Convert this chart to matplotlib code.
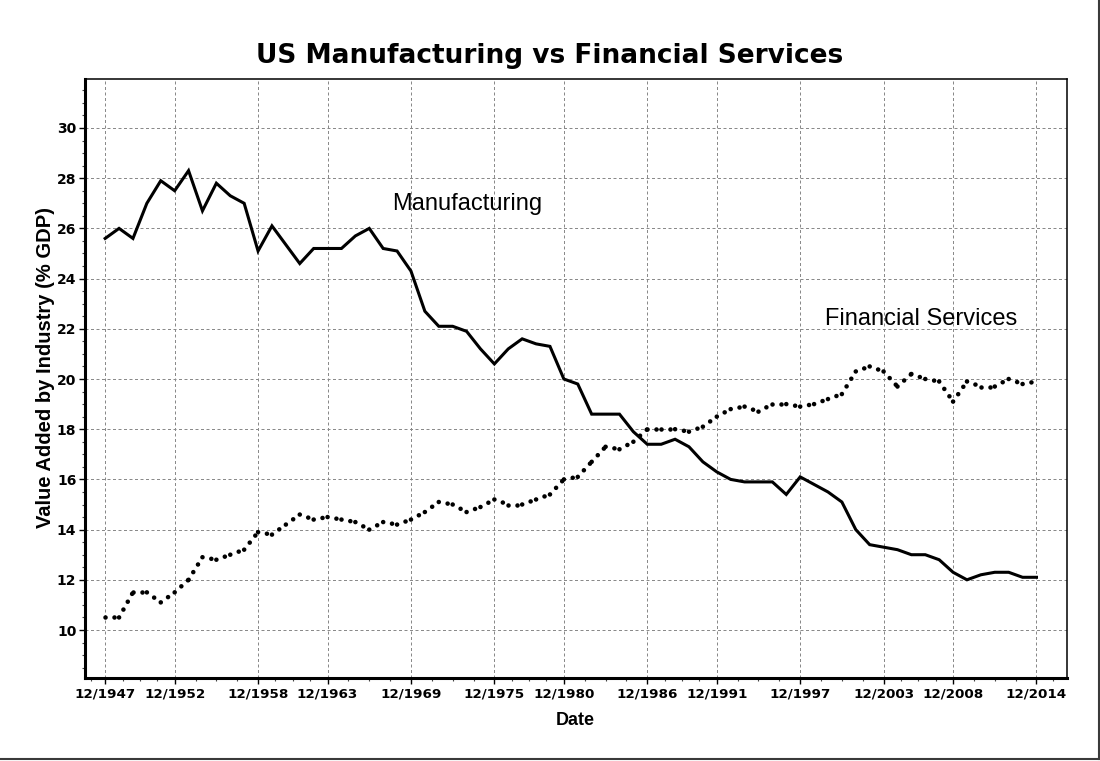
import numpy as np
import matplotlib
matplotlib.use("Agg")
import matplotlib.pyplot as plt
from matplotlib.lines import Line2D

# ---- data ----
years = list(range(1947, 2015))
manufacturing = [25.6, 26.0, 25.6, 27.0, 27.9, 27.5, 28.3, 26.7, 27.8, 27.3,
                 27.0, 25.1, 26.1, 25.35, 24.6, 25.2, 25.2, 25.2, 25.7, 26.0,
                 25.2, 25.1, 24.3, 22.7, 22.1, 22.1, 21.9, 21.2, 20.6, 21.2,
                 21.6, 21.4, 21.3, 20.0, 19.8, 18.6, 18.6, 18.6, 17.9, 17.4,
                 17.4, 17.6, 17.3, 16.7, 16.3, 16.0, 15.9, 15.9, 15.9, 15.4,
                 16.1, 15.8, 15.5, 15.1, 14.0, 13.4, 13.3, 13.2, 13.0, 13.0,
                 12.8, 12.3, 12.0, 12.2, 12.3, 12.3, 12.1, 12.1]
financial = [10.5, 10.5, 11.5, 11.5, 11.1, 11.5, 12.0, 12.9, 12.8, 13.0,
             13.2, 13.9, 13.8, 14.2, 14.6, 14.4, 14.5, 14.4, 14.3, 14.0,
             14.3, 14.2, 14.4, 14.7, 15.1, 15.0, 14.7, 14.9, 15.2, 15.0,
             15.0, 15.2, 15.4, 16.0, 16.1, 16.7, 17.3, 17.2, 17.5, 18.0,
             18.0, 18.0, 17.9, 18.1, 18.5, 18.8, 18.9, 18.7, 19.0, 19.0,
             18.9, 19.0, 19.2, 19.4, 20.3, 20.5, 20.3, 19.7, 20.2, 20.0,
             19.9, 19.1, 19.9, 19.7, 19.7, 20.0, 19.8, 19.9]
xtick_years = [1947, 1952, 1958, 1963, 1969, 1975, 1980, 1986, 1991, 1997, 2003, 2008, 2014]
xtick_labels = ["12/%d" % y for y in xtick_years]
ytick_values = [10, 12, 14, 16, 18, 20, 22, 24, 26, 28, 30]

W, H = 1100, 761
fig = plt.figure(figsize=(W / 100, H / 100), dpi=100)
fig.patch.set_facecolor("white")

def fx(px):
    return px / W

def fy(py):
    return 1 - py / H

ax = fig.add_axes([fx(85), fy(677.7), fx(1066.5) - fx(85), fy(79.3) - fy(677.7)])
ax.set_xlim(1945.55, 2016.16)
ax.set_ylim(8.1, 31.94)

# grid
ax.set_axisbelow(True)
ax.set_xticks(xtick_years)
ax.set_yticks(ytick_values)
ax.grid(True, which="major", color="#8a8a8a", lw=0.72, linestyle=(0, (3.0, 2.5)))

# minor ticks
minor_x = []
for a, b in zip(xtick_years[:-1], xtick_years[1:]):
    for k in (1, 2, 3):
        minor_x.append(a + (b - a) * k / 4)
minor_x = [1946.0] + minor_x + [2015.2]
ax.set_xticks(minor_x, minor=True)
ax.set_yticks(np.arange(8.5, 31.9, 0.5), minor=True)

# manufacturing line
ax.plot(years, manufacturing, color="black", lw=2.2, solid_joinstyle="miter", zorder=3)

# financial services dotted line (pattern restarts at each yearly vertex)
yr = np.array(years, dtype=float)
fs = np.array(financial)
for i in range(len(yr) - 1):
    ax.plot(yr[i:i + 2], fs[i:i + 2], color="black", lw=3.3,
            linestyle=(0, (0.01, 1.95)), dash_capstyle="round", zorder=3)

# annotations
ax.text(1967.61, 26.73, "Manufacturing", fontsize=17, family="Liberation Sans",
        ha="left", va="baseline")
ax.text(1998.78, 22.15, "Financial Services", fontsize=17, family="Liberation Sans",
        ha="left", va="baseline")

# ticks
ax.set_xticklabels(xtick_labels, fontsize=9.7, fontweight="bold", family="DejaVu Sans")
ax.set_yticklabels([str(v) for v in ytick_values], fontsize=10, fontweight="bold",
                   family="DejaVu Sans")
ax.tick_params(axis="both", which="major", direction="out", length=4, width=1,
               color="black")
ax.tick_params(axis="x", which="major", pad=3.2)
ax.tick_params(axis="y", which="major", pad=2.2)
ax.tick_params(axis="both", which="minor", direction="out", length=2.5, width=0.8,
               color="#444444")

for s in ("left", "bottom"):
    ax.spines[s].set_linewidth(2.2)
for s in ("top", "right"):
    ax.spines[s].set_linewidth(1.1)

# titles / labels
fig.text(0.5, fy(63.3), "US Manufacturing vs Financial Services", fontsize=19,
         fontweight="bold", family="DejaVu Sans", ha="center", va="baseline")
fig.text(fx(575.5), fy(725), "Date", fontsize=13, fontweight="bold",
         family="Liberation Sans", ha="center", va="baseline")
fig.text(fx(45.5), fy(368), "Value Added by Industry (% GDP)", fontsize=14.5,
         fontweight="bold", family="Liberation Sans", rotation=90,
         ha="center", va="center")

# figure border (right and bottom)
fig.add_artist(Line2D([fx(1098.5), fx(1098.5)], [fy(0), fy(759)],
                      transform=fig.transFigure, color="#3a3a3a", lw=1.5))
fig.add_artist(Line2D([fx(0), fx(1098.5)], [fy(759), fy(759)],
                      transform=fig.transFigure, color="#3a3a3a", lw=1.5))

fig.savefig("out.png", dpi=100, facecolor="white")
